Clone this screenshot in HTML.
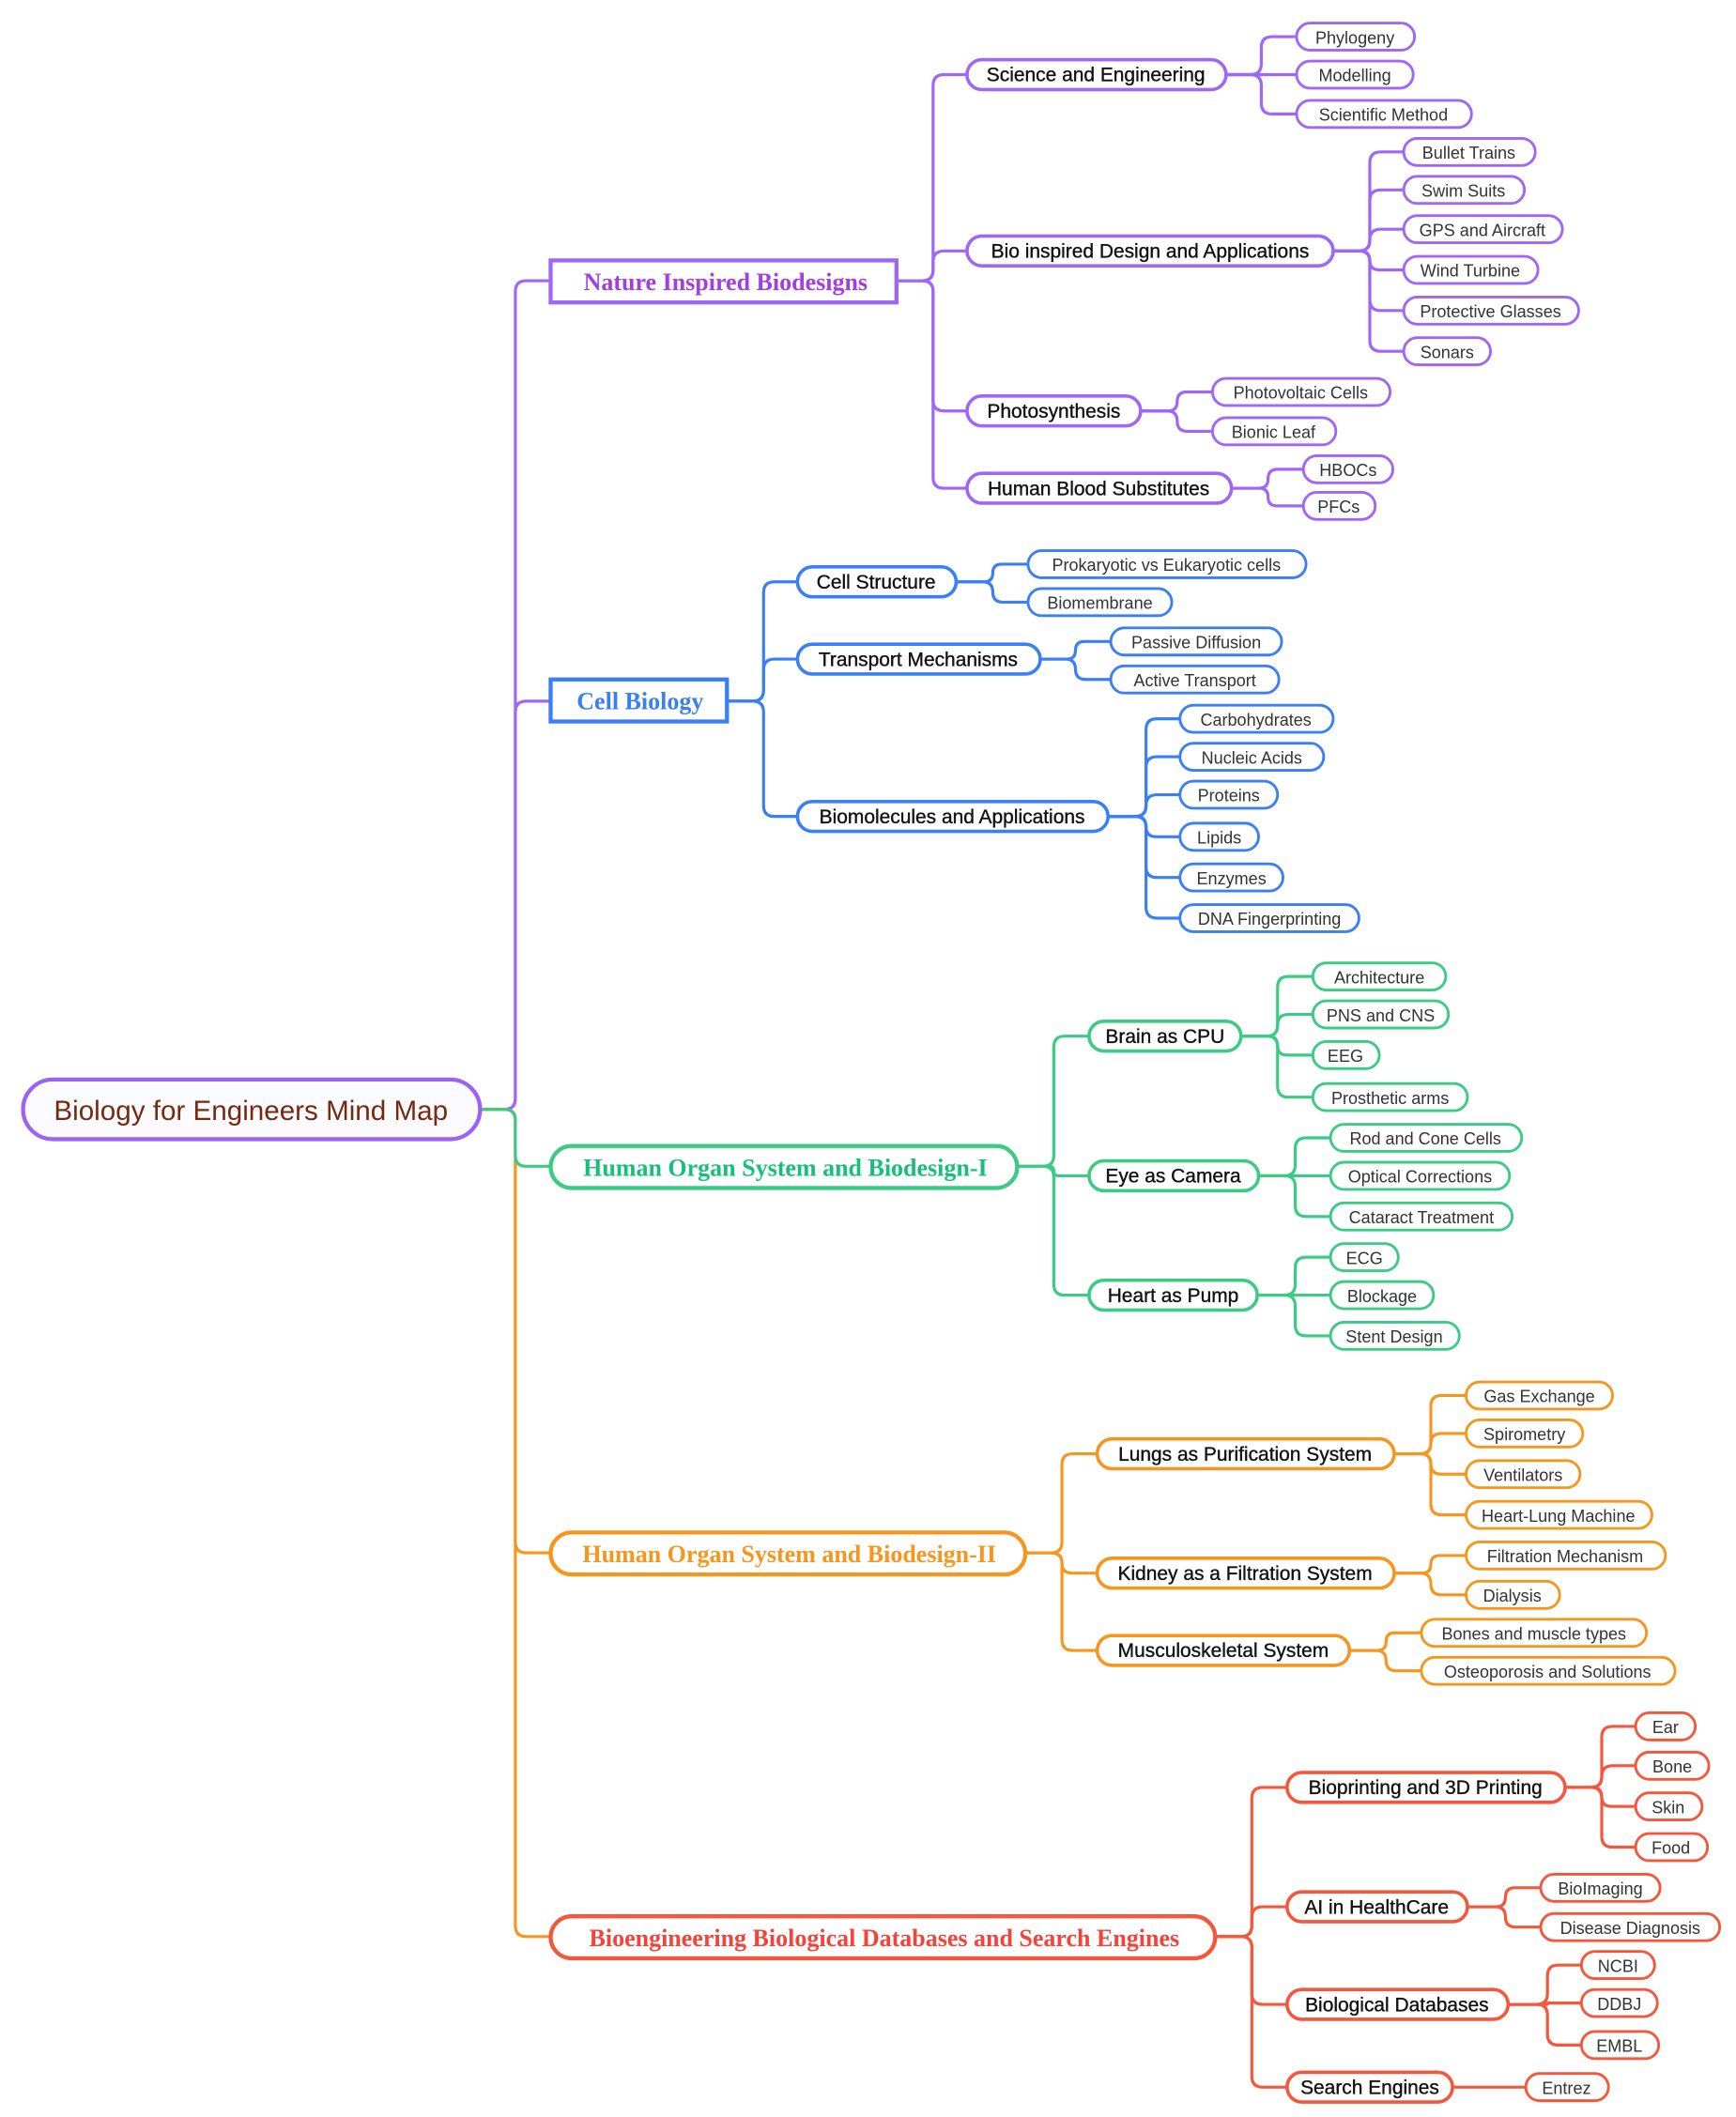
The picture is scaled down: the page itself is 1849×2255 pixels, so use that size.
<!DOCTYPE html>
<html><head><meta charset="utf-8"><style>
html,body{margin:0;padding:0;background:#fff;width:1849px;height:2255px;overflow:hidden}
svg{display:block}
.n text{font-family:"Liberation Sans",sans-serif;font-size:14.5px;fill:#111;text-anchor:middle;stroke:#111;stroke-width:0.25}
.l text{font-family:"Liberation Sans",sans-serif;font-size:12.5px;fill:#333;text-anchor:middle}
.b{font-family:"Liberation Serif",serif;font-weight:bold;font-size:18px;text-anchor:middle}
</style></head><body>
<svg id="s" width="1849" height="2255" viewBox="0 0 1280 1561" xmlns="http://www.w3.org/2000/svg">
<g id="conn" fill="none" stroke-width="2.2"></g>

<!-- root -->
<rect x="17" y="796" width="337" height="44" rx="22" fill="#fcfbff" stroke="#9d62f2" stroke-width="3"/>
<text x="185" y="826" font-family="Liberation Sans,sans-serif" font-size="20.5" fill="#742a0e" text-anchor="middle">Biology for Engineers Mind Map</text>

<!-- branches -->
<rect x="406" y="192" width="255" height="31" fill="#fff" stroke="#a066f5" stroke-width="3"/>
<text class="b" x="535" y="214" fill="#a23fe0">Nature Inspired Biodesigns</text>
<rect x="406" y="501" width="130" height="31" fill="#fff" stroke="#3b7ff5" stroke-width="3"/>
<text class="b" x="472" y="523" fill="#3b7ff5">Cell Biology</text>
<rect x="406" y="845" width="344" height="31" rx="15.5" fill="#fff" stroke="#3ccb85" stroke-width="3"/>
<text class="b" x="579" y="867" fill="#17bf7a">Human Organ System and Biodesign-I</text>
<rect x="406" y="1130" width="350" height="31" rx="15.5" fill="#fff" stroke="#f5961e" stroke-width="3"/>
<text class="b" x="582" y="1152" fill="#f5961e">Human Organ System and Biodesign-II</text>
<rect x="406" y="1413" width="490" height="31" rx="15.5" fill="#fff" stroke="#f4573c" stroke-width="3"/>
<text class="b" x="652" y="1435" fill="#f4433a">Bioengineering Biological Databases and Search Engines</text>

<!-- purple -->
<g class="n" stroke="#a066f5">
<rect x="713" y="44" width="191" height="22" rx="11" fill="#fff" stroke-width="2.5"/><text x="808" y="60">Science and Engineering</text>
<rect x="713" y="174" width="270" height="22" rx="11" fill="#fff" stroke-width="2.5"/><text x="848" y="190">Bio inspired Design and Applications</text>
<rect x="713" y="292" width="128" height="22" rx="11" fill="#fff" stroke-width="2.5"/><text x="777" y="308">Photosynthesis</text>
<rect x="713" y="349" width="195" height="22" rx="11" fill="#fff" stroke-width="2.5"/><text x="810" y="365">Human Blood Substitutes</text>
</g>
<g class="l" stroke="#a066f5" fill="#fff" stroke-width="2">
<rect x="956" y="17" width="87" height="20" rx="10"/><text x="999" y="32" stroke="none">Phylogeny</text>
<rect x="956" y="45" width="86" height="20" rx="10"/><text x="999" y="60" stroke="none">Modelling</text>
<rect x="956" y="74" width="129" height="20" rx="10"/><text x="1020" y="89" stroke="none">Scientific Method</text>
<rect x="1035" y="102" width="97" height="20" rx="10"/><text x="1083" y="117" stroke="none">Bullet Trains</text>
<rect x="1035" y="130" width="89" height="20" rx="10"/><text x="1079" y="145" stroke="none">Swim Suits</text>
<rect x="1035" y="159" width="117" height="20" rx="10"/><text x="1093" y="174" stroke="none">GPS and Aircraft</text>
<rect x="1035" y="189" width="99" height="20" rx="10"/><text x="1084" y="204" stroke="none">Wind Turbine</text>
<rect x="1035" y="219" width="129" height="20" rx="10"/><text x="1099" y="234" stroke="none">Protective Glasses</text>
<rect x="1035" y="249" width="64" height="20" rx="10"/><text x="1067" y="264" stroke="none">Sonars</text>
<rect x="894" y="279" width="131" height="20" rx="10"/><text x="959" y="294" stroke="none">Photovoltaic Cells</text>
<rect x="894" y="308" width="91" height="20" rx="10"/><text x="939" y="323" stroke="none">Bionic Leaf</text>
<rect x="961" y="336" width="66" height="20" rx="10"/><text x="994" y="351" stroke="none">HBOCs</text>
<rect x="961" y="363" width="53" height="20" rx="10"/><text x="987" y="378" stroke="none">PFCs</text>
</g>

<!-- blue -->
<g class="n" stroke="#3b7ff5">
<rect x="588" y="418" width="117" height="22" rx="11" fill="#fff" stroke-width="2.5"/><text x="646" y="434">Cell Structure</text>
<rect x="588" y="475" width="179" height="22" rx="11" fill="#fff" stroke-width="2.5"/><text x="677" y="491">Transport Mechanisms</text>
<rect x="588" y="591" width="229" height="22" rx="11" fill="#fff" stroke-width="2.5"/><text x="702" y="607">Biomolecules and Applications</text>
</g>
<g class="l" stroke="#3b7ff5" fill="#fff" stroke-width="2">
<rect x="758" y="406" width="205" height="20" rx="10"/><text x="860" y="421" stroke="none">Prokaryotic vs Eukaryotic cells</text>
<rect x="758" y="434" width="106" height="20" rx="10"/><text x="811" y="449" stroke="none">Biomembrane</text>
<rect x="819" y="463" width="126" height="20" rx="10"/><text x="882" y="478" stroke="none">Passive Diffusion</text>
<rect x="819" y="491" width="124" height="20" rx="10"/><text x="881" y="506" stroke="none">Active Transport</text>
<rect x="870" y="520" width="113" height="20" rx="10"/><text x="926" y="535" stroke="none">Carbohydrates</text>
<rect x="870" y="548" width="106" height="20" rx="10"/><text x="923" y="563" stroke="none">Nucleic Acids</text>
<rect x="870" y="576" width="72" height="20" rx="10"/><text x="906" y="591" stroke="none">Proteins</text>
<rect x="870" y="607" width="58" height="20" rx="10"/><text x="899" y="622" stroke="none">Lipids</text>
<rect x="870" y="637" width="76" height="20" rx="10"/><text x="908" y="652" stroke="none">Enzymes</text>
<rect x="870" y="667" width="132" height="20" rx="10"/><text x="936" y="682" stroke="none">DNA Fingerprinting</text>
</g>

<!-- green -->
<g class="n" stroke="#3ccb85">
<rect x="803" y="753" width="112" height="22" rx="11" fill="#fff" stroke-width="2.5"/><text x="859" y="769">Brain as CPU</text>
<rect x="803" y="856" width="125" height="22" rx="11" fill="#fff" stroke-width="2.5"/><text x="865" y="872">Eye as Camera</text>
<rect x="803" y="944" width="124" height="22" rx="11" fill="#fff" stroke-width="2.5"/><text x="865" y="960">Heart as Pump</text>
</g>
<g class="l" stroke="#3ccb85" fill="#fff" stroke-width="2">
<rect x="968" y="710" width="98" height="20" rx="10"/><text x="1017" y="725" stroke="none">Architecture</text>
<rect x="968" y="738" width="100" height="20" rx="10"/><text x="1018" y="753" stroke="none">PNS and CNS</text>
<rect x="968" y="768" width="49" height="20" rx="10"/><text x="992" y="783" stroke="none">EEG</text>
<rect x="968" y="799" width="114" height="20" rx="10"/><text x="1025" y="814" stroke="none">Prosthetic arms</text>
<rect x="981" y="829" width="141" height="20" rx="10"/><text x="1051" y="844" stroke="none">Rod and Cone Cells</text>
<rect x="981" y="857" width="132" height="20" rx="10"/><text x="1047" y="872" stroke="none">Optical Corrections</text>
<rect x="981" y="887" width="134" height="20" rx="10"/><text x="1048" y="902" stroke="none">Cataract Treatment</text>
<rect x="981" y="917" width="50" height="20" rx="10"/><text x="1006" y="932" stroke="none">ECG</text>
<rect x="981" y="945" width="76" height="20" rx="10"/><text x="1019" y="960" stroke="none">Blockage</text>
<rect x="981" y="975" width="95" height="20" rx="10"/><text x="1028" y="990" stroke="none">Stent Design</text>
</g>

<!-- orange -->
<g class="n" stroke="#f5961e">
<rect x="809" y="1061" width="219" height="22" rx="11" fill="#fff" stroke-width="2.5"/><text x="918" y="1077">Lungs as Purification System</text>
<rect x="809" y="1149" width="219" height="22" rx="11" fill="#fff" stroke-width="2.5"/><text x="918" y="1165">Kidney as a Filtration System</text>
<rect x="809" y="1206" width="186" height="22" rx="11" fill="#fff" stroke-width="2.5"/><text x="902" y="1222">Musculoskeletal System</text>
</g>
<g class="l" stroke="#f5961e" fill="#fff" stroke-width="2">
<rect x="1081" y="1019" width="108" height="20" rx="10"/><text x="1135" y="1034" stroke="none">Gas Exchange</text>
<rect x="1081" y="1047" width="86" height="20" rx="10"/><text x="1124" y="1062" stroke="none">Spirometry</text>
<rect x="1081" y="1077" width="84" height="20" rx="10"/><text x="1123" y="1092" stroke="none">Ventilators</text>
<rect x="1081" y="1107" width="137" height="20" rx="10"/><text x="1149" y="1122" stroke="none">Heart-Lung Machine</text>
<rect x="1081" y="1137" width="147" height="20" rx="10"/><text x="1154" y="1152" stroke="none">Filtration Mechanism</text>
<rect x="1081" y="1166" width="69" height="20" rx="10"/><text x="1115" y="1181" stroke="none">Dialysis</text>
<rect x="1048" y="1194" width="166" height="20" rx="10"/><text x="1131" y="1209" stroke="none">Bones and muscle types</text>
<rect x="1048" y="1222" width="187" height="20" rx="10"/><text x="1141" y="1237" stroke="none">Osteoporosis and Solutions</text>
</g>

<!-- red -->
<g class="n" stroke="#f4573c">
<rect x="949" y="1307" width="205" height="22" rx="11" fill="#fff" stroke-width="2.5"/><text x="1051" y="1323">Bioprinting and 3D Printing</text>
<rect x="949" y="1395" width="133" height="22" rx="11" fill="#fff" stroke-width="2.5"/><text x="1015" y="1411">AI in HealthCare</text>
<rect x="949" y="1467" width="163" height="22" rx="11" fill="#fff" stroke-width="2.5"/><text x="1030" y="1483">Biological Databases</text>
<rect x="949" y="1528" width="122" height="22" rx="11" fill="#fff" stroke-width="2.5"/><text x="1010" y="1544">Search Engines</text>
</g>
<g class="l" stroke="#f4573c" fill="#fff" stroke-width="2">
<rect x="1206" y="1263" width="44" height="20" rx="10"/><text x="1228" y="1278" stroke="none">Ear</text>
<rect x="1206" y="1292" width="54" height="20" rx="10"/><text x="1233" y="1307" stroke="none">Bone</text>
<rect x="1206" y="1322" width="49" height="20" rx="10"/><text x="1230" y="1337" stroke="none">Skin</text>
<rect x="1206" y="1352" width="53" height="20" rx="10"/><text x="1232" y="1367" stroke="none">Food</text>
<rect x="1136" y="1382" width="88" height="20" rx="10"/><text x="1180" y="1397" stroke="none">BioImaging</text>
<rect x="1136" y="1411" width="132" height="20" rx="10"/><text x="1202" y="1426" stroke="none">Disease Diagnosis</text>
<rect x="1166" y="1439" width="54" height="20" rx="10"/><text x="1193" y="1454" stroke="none">NCBI</text>
<rect x="1166" y="1467" width="56" height="20" rx="10"/><text x="1194" y="1482" stroke="none">DDBJ</text>
<rect x="1166" y="1498" width="57" height="20" rx="10"/><text x="1194" y="1513" stroke="none">EMBL</text>
<rect x="1125" y="1529" width="61" height="20" rx="10"/><text x="1155" y="1544" stroke="none">Entrez</text>
</g>
</svg>
<script>
(function(){
var P="#a066f5",B="#3b7ff5",G="#3ccb85",O="#f5961e",R="#f4573c";
// [color, px, py, tx, cx, [cys]]
var C=[
[P,354,818,380,406,[207,517]],
[O,354,818,380,406,[1145,1428]],
[G,354,818,380,406,[860]],
[P,661,207,688,713,[55,185,303,360]],
[P,904,55,930,956,[27,55,84]],
[P,983,185,1010,1035,[112,140,169,199,229,259]],
[P,841,303,868,894,[289,318]],
[P,908,360,935,961,[346,373]],
[B,536,517,563,588,[429,486,602]],
[B,705,429,732,758,[416,444]],
[B,767,486,793,819,[473,501]],
[B,817,602,845,870,[530,558,586,617,647,677]],
[G,750,860,777,803,[764,867,955]],
[G,915,764,942,968,[720,748,778,809]],
[G,928,867,955,981,[839,867,897]],
[G,927,955,955,981,[927,955,985]],
[O,756,1145,783,809,[1072,1160,1217]],
[O,1028,1072,1055,1081,[1029,1057,1087,1117]],
[O,1028,1160,1055,1081,[1147,1176]],
[O,995,1217,1022,1048,[1204,1232]],
[R,896,1428,923,949,[1318,1406,1478,1539]],
[R,1154,1318,1181,1206,[1273,1302,1332,1362]],
[R,1082,1406,1110,1136,[1392,1421]],
[R,1112,1478,1141,1166,[1449,1477,1508]],
[R,1071,1539,1098,1125,[1539]]
];
var g=document.getElementById("conn"),ns="http://www.w3.org/2000/svg";
C.forEach(function(c){
 var col=c[0],px=c[1],py=c[2],tx=c[3],cx=c[4];
 c[5].forEach(function(cy){
  var d,dy=cy-py,r=Math.min(8,Math.abs(dy)/2),s=dy>0?1:-1;
  if(Math.abs(dy)<1){d="M"+px+" "+py+"H"+cx;}
  else d="M"+px+" "+py+"H"+(tx-r)+"Q"+tx+" "+py+" "+tx+" "+(py+s*r)+"V"+(cy-s*r)+"Q"+tx+" "+cy+" "+(tx+r)+" "+cy+"H"+cx;
  var p=document.createElementNS(ns,"path");p.setAttribute("d",d);p.setAttribute("stroke",col);g.appendChild(p);
 });
});
})();
</script>
</body></html>
